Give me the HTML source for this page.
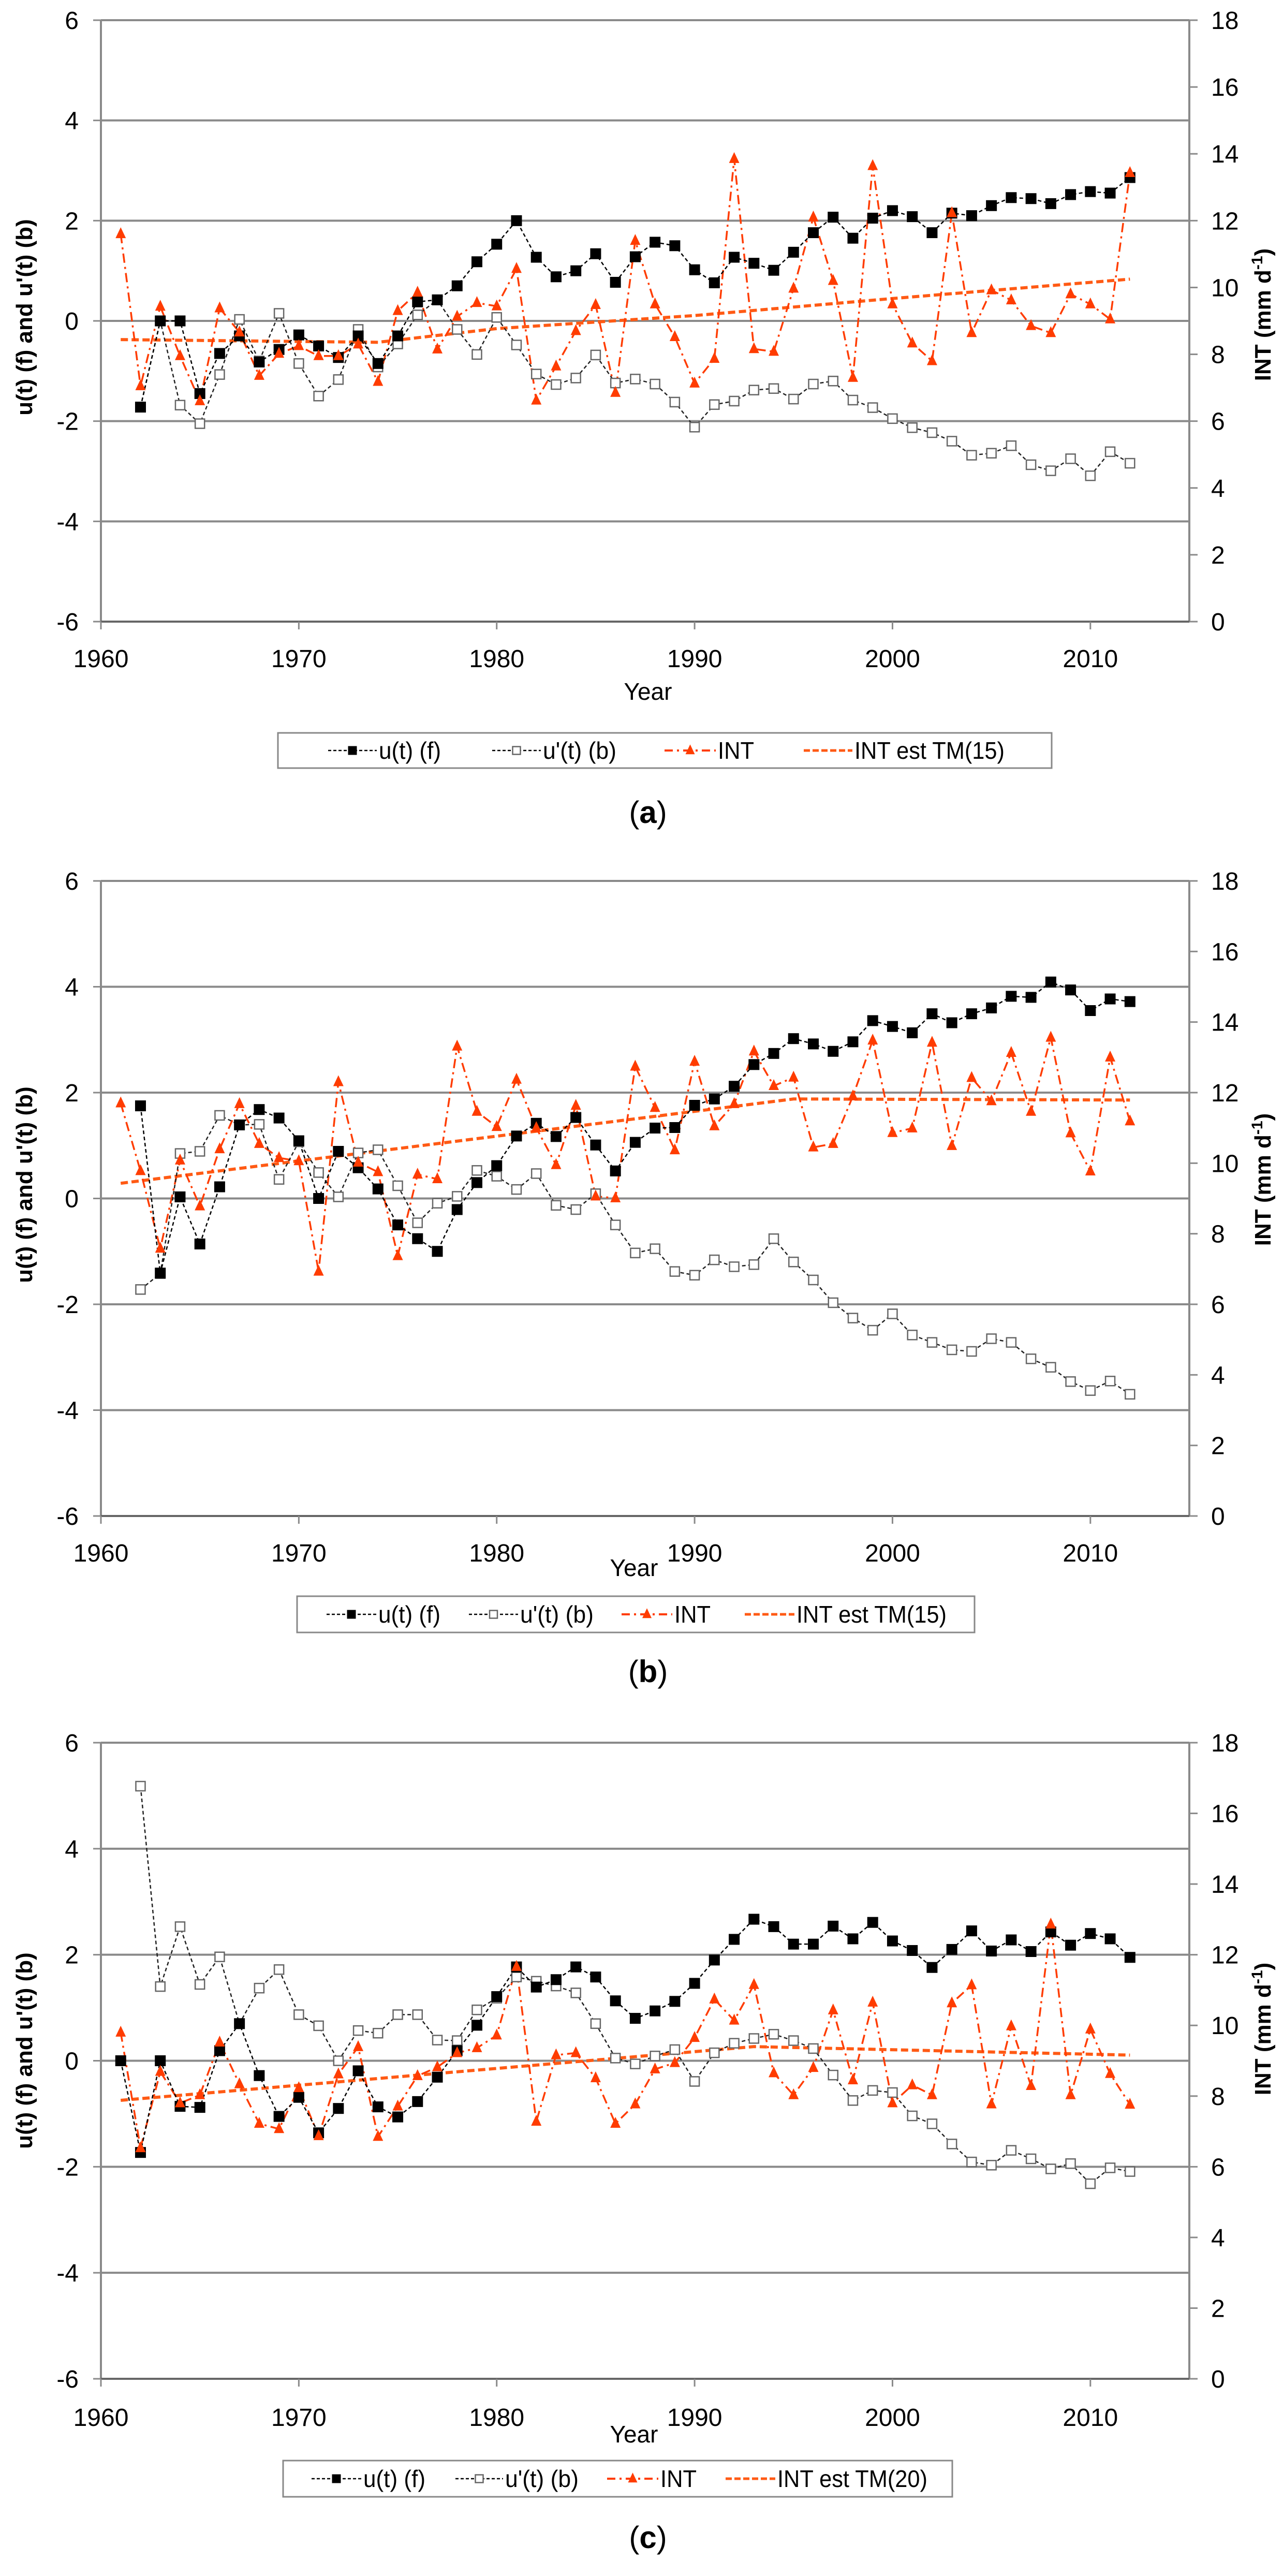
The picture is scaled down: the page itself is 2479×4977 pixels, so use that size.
<!DOCTYPE html>
<html><head><meta charset="utf-8"><style>
html,body{margin:0;padding:0;background:#fff}
svg{display:block}
text{font-family:"Liberation Sans",Arial,sans-serif}
</style></head><body>
<svg id="fig" width="2479" height="4977" viewBox="0 0 2479 4977" xmlns="http://www.w3.org/2000/svg"></svg>
<script>
// ---------- data ----------
const yearsA = [1961,1962,1963,1964,1965,1966,1967,1968,1969,1970,1971,1972,1973,1974,1975,1976,1977,1978,1979,1980,1981,1982,1983,1984,1985,1986,1987,1988,1989,1990,1991,1992,1993,1994,1995,1996,1997,1998,1999,2000,2001,2002,2003,2004,2005,2006,2007,2008,2009,2010,2011,2012];
const uStartYear = 1962;
const uFA = [-1.72,0,0,-1.45,-0.65,-0.3,-0.82,-0.57,-0.28,-0.5,-0.73,-0.3,-0.85,-0.3,0.38,0.42,0.7,1.18,1.53,2.0,1.27,0.88,1.0,1.34,0.77,1.28,1.57,1.5,1.02,0.76,1.27,1.15,1.01,1.37,1.76,2.07,1.65,2.05,2.2,2.08,1.76,2.15,2.1,2.3,2.46,2.44,2.34,2.52,2.58,2.55,2.86];
const uBA = [-1.72,0,-1.68,-2.05,-1.07,0.03,-0.8,0.15,-0.85,-1.5,-1.17,-0.17,-0.92,-0.46,0.12,0.42,-0.17,-0.67,0.07,-0.48,-1.06,-1.27,-1.14,-0.68,-1.24,-1.16,-1.26,-1.62,-2.12,-1.67,-1.6,-1.38,-1.35,-1.56,-1.26,-1.2,-1.58,-1.73,-1.95,-2.13,-2.23,-2.4,-2.68,-2.64,-2.49,-2.87,-2.99,-2.75,-3.09,-2.61,-2.84];
const intA = [11.6,7.05,9.43,7.95,6.6,9.38,8.66,7.36,8.02,8.25,7.95,7.95,8.3,7.18,9.3,9.85,8.15,9.13,9.54,9.44,10.56,6.62,7.64,8.7,9.48,6.85,11.4,9.5,8.52,7.13,7.87,13.85,8.16,8.08,9.97,12.1,10.2,7.3,13.64,9.5,8.33,7.8,12.23,8.64,9.92,9.62,8.85,8.64,9.8,9.5,9.05,13.43];
const tmYearsA = [1961,1974,1980,1990,2000,2012];
const tmA = [8.44,8.36,8.77,9.16,9.67,10.25];

const uFB = [1.75,-1.41,0.03,-0.86,0.22,1.39,1.68,1.52,1.09,0,0.89,0.58,0.18,-0.5,-0.76,-1.0,-0.21,0.3,0.62,1.18,1.42,1.17,1.53,1.01,0.52,1.06,1.33,1.34,1.76,1.88,2.12,2.53,2.74,3.02,2.92,2.78,2.96,3.36,3.25,3.13,3.49,3.32,3.49,3.6,3.82,3.8,4.09,3.94,3.55,3.77,3.72];
const uBB = [-1.72,-1.42,0.85,0.89,1.57,1.39,1.4,0.36,1.07,0.49,0.03,0.86,0.92,0.24,-0.46,-0.09,0.04,0.53,0.42,0.17,0.47,-0.13,-0.21,0.09,-0.5,-1.03,-0.95,-1.38,-1.45,-1.16,-1.29,-1.25,-0.76,-1.2,-1.54,-1.97,-2.26,-2.49,-2.18,-2.58,-2.72,-2.86,-2.89,-2.65,-2.72,-3.03,-3.19,-3.46,-3.63,-3.45,-3.7];
const intB = [11.7,9.78,7.58,10.08,8.78,10.4,11.68,10.55,10.15,10.06,6.93,12.3,10.02,9.75,7.37,9.68,9.55,13.31,11.46,11.03,12.37,11.0,9.95,11.63,9.06,9.01,12.74,11.57,10.37,12.88,11.05,11.68,13.17,12.19,12.43,10.45,10.55,11.9,13.48,10.86,10.99,13.42,10.49,12.42,11.76,13.13,11.46,13.56,10.85,9.77,13.0,11.19];
const tmYearsB = [1961,1995,2012];
const tmB = [9.43,11.82,11.79];

const uFC = [0,-1.73,0,-0.86,-0.88,0.19,0.7,-0.28,-1.05,-0.69,-1.36,-0.9,-0.19,-0.87,-1.06,-0.77,-0.31,0.19,0.67,1.21,1.77,1.39,1.53,1.77,1.58,1.13,0.8,0.94,1.12,1.46,1.9,2.29,2.67,2.53,2.2,2.2,2.54,2.3,2.61,2.26,2.08,1.76,2.1,2.45,2.07,2.28,2.06,2.43,2.18,2.4,2.3,1.95];
const uFCStart = 1961;
const uBC = [5.18,1.4,2.53,1.44,1.96,0.7,1.37,1.72,0.87,0.66,0,0.57,0.52,0.87,0.87,0.39,0.38,0.96,1.18,1.58,1.5,1.41,1.28,0.7,0.05,-0.06,0.09,0.21,-0.39,0.15,0.33,0.42,0.5,0.38,0.23,-0.27,-0.75,-0.56,-0.6,-1.04,-1.19,-1.57,-1.91,-1.97,-1.69,-1.85,-2.04,-1.94,-2.32,-2.02,-2.09];
const intC = [9.8,6.53,8.69,7.8,8.03,9.52,8.34,7.22,7.07,8.23,6.87,8.62,9.39,6.85,7.71,8.57,8.82,9.22,9.36,9.72,11.66,7.28,9.16,9.22,8.51,7.22,7.77,8.76,8.94,9.65,10.74,10.14,11.15,8.65,8.03,8.8,10.43,8.45,10.65,7.8,8.31,8.03,10.63,11.14,7.77,9.98,8.29,12.86,8.03,9.89,8.63,7.76];
const tmYearsC = [1961,1993,2012];
const tmC = [7.88,9.4,9.16];

const leftTicks = [-6,-4,-2,0,2,4,6];
const rightTicks = [0,2,4,6,8,10,12,14,16,18];
const xTicks = [1960,1970,1980,1990,2000,2010];

// ---------- layout ----------
const NS = "http://www.w3.org/2000/svg";
const svg = document.getElementById('fig');
const X0 = 195, X1 = 2298, XMIN = 1960, XMAX = 2015;
const RED = '#ff3c00', TMC = '#ff5a14', GRID = '#8a8a8a';
function mk(tag, attrs, parent){ const e=document.createElementNS(NS,tag); for(const k in attrs) e.setAttribute(k,attrs[k]); (parent||svg).appendChild(e); return e; }
function xs(yr){ return X0 + (yr-XMIN)/(XMAX-XMIN)*(X1-X0); }

const panels = [
 {id:'a', top:39, bot:1201, tickY:1289, yearY:1352, yearX:1252, leg:[537,1416,2032,1484], cap:1590, capL:'a', titleY:613, rTitleY:608,
  uF:uFA, uFStart:uStartYear, uB:uBA, uBStart:uStartYear, intv:intA, tmY:tmYearsA, tm:tmA, tmLabel:'INT est TM(15)',
  legX:[634,951,1284,1553], legT:[732,1049,1387,1651]},
 {id:'b', top:1702, bot:2929, tickY:3017, yearY:3045, yearX:1225, leg:[574,3084,1883,3154], cap:3250, capL:'b', titleY:2289, rTitleY:2279,
  uF:uFB, uFStart:uStartYear, uB:uBB, uBStart:uStartYear, intv:intB, tmY:tmYearsB, tm:tmB, tmLabel:'INT est TM(15)',
  legX:[631,906,1201,1439], legT:[731,1005,1303,1539]},
 {id:'c', top:3367, bot:4596, tickY:4687, yearY:4719, yearX:1225, leg:[547,4754,1840,4824], cap:4923, capL:'c', titleY:3962, rTitleY:3920,
  uF:uFC, uFStart:uFCStart, uB:uBC, uBStart:uStartYear, intv:intC, tmY:tmYearsC, tm:tmC, tmLabel:'INT est TM(20)',
  legX:[602,880,1173,1402], legT:[702,976,1276,1502]}
];

function square(g,x,y,filled,s){
  const r = mk('rect',{x:x-s/2,y:y-s/2,width:s,height:s,fill:filled?'#000':'#fff',stroke:filled?'#000':'#666','stroke-width':filled?1:2.5},g);
  return r;
}
function tri(g,x,y,s){
  return mk('polygon',{points:`${x},${y-s*0.65} ${x-s/2},${y+s*0.4} ${x+s/2},${y+s*0.4}`,fill:RED},g);
}

panels.forEach(p=>{
  const g = mk('g',{});
  
  
  const yl = v => p.bot - (v+6)/12*(p.bot-p.top);
  const yr = v => p.bot - v/18*(p.bot-p.top);
  // gridlines
  leftTicks.forEach(t=>{
    if(t===-6) return;
    const l = mk('line',{x1:X0,x2:X1,y1:yl(t),y2:yl(t),stroke:GRID,'stroke-width':4},g);
    
    
  });
  // axes
  mk('line',{x1:X0,x2:X0,y1:p.top,y2:p.bot,stroke:GRID,'stroke-width':4},g);
  mk('line',{x1:X1,x2:X1,y1:p.top,y2:p.bot,stroke:GRID,'stroke-width':4},g);
  mk('line',{x1:X0,x2:X1,y1:p.bot,y2:p.bot,stroke:'#666','stroke-width':4},g);
  leftTicks.forEach(t=>{
    mk('line',{x1:X0-15,x2:X0,y1:yl(t),y2:yl(t),stroke:GRID,'stroke-width':3},g);
    const tx = mk('text',{x:152,y:yl(t)+17,'font-size':48,'text-anchor':'end',fill:'#000'},g);
    tx.textContent = t;  
  });
  rightTicks.forEach(t=>{
    mk('line',{x1:X1,x2:X1+16,y1:yr(t),y2:yr(t),stroke:GRID,'stroke-width':3},g);
    const tx = mk('text',{x:2340,y:yr(t)+17,'font-size':48,'text-anchor':'start',fill:'#000'},g);
    tx.textContent = t;  
  });
  xTicks.forEach(t=>{
    mk('line',{x1:xs(t),x2:xs(t),y1:p.bot,y2:p.bot+15,stroke:GRID,'stroke-width':3},g);
    const tx = mk('text',{x:xs(t),y:p.tickY,'font-size':48,'text-anchor':'middle',fill:'#000'},g);
    tx.textContent = t;  
  });
  let t1 = mk('text',{x:p.yearX,y:p.yearY,'font-size':46,'text-anchor':'middle'},g);
  t1.textContent='Year';  
  let t2 = mk('text',{x:0,y:0,'font-size':44,'font-weight':'bold','text-anchor':'middle',transform:`translate(62,${p.titleY}) rotate(-90)`},g);
  t2.textContent="u(t) (f) and u'(t) (b)";  
  let t3 = mk('text',{x:0,y:0,'font-size':44,'font-weight':'bold','text-anchor':'middle',transform:`translate(2455,${p.rTitleY}) rotate(-90)`},g);
  t3.innerHTML='INT (mm d<tspan font-size="30" dy="-16">-1</tspan><tspan dy="16">)</tspan>';
   

  // TM trend
  const tmPts = p.tm.map((v,i)=>xs(p.tmY[i])+','+yr(v)).join(' ');
  const tml = mk('polyline',{points:tmPts,fill:'none',stroke:TMC,'stroke-width':6,'stroke-dasharray':'14 7'},g);
   
  // INT
  const intPts = p.intv.map((v,i)=>xs(1961+i)+','+yr(v)).join(' ');
  const il = mk('polyline',{points:intPts,fill:'none',stroke:RED,'stroke-width':3.5,'stroke-dasharray':'18 8 4 8'},g);
   
  // u'(t) (b)
  const ubPts = p.uB.map((v,i)=>xs(p.uBStart+i)+','+yl(v)).join(' ');
  const ubl = mk('polyline',{points:ubPts,fill:'none',stroke:'#222','stroke-width':2.5,'stroke-dasharray':'7 5'},g);
   
  // u(t) (f)
  const ufPts = p.uF.map((v,i)=>xs(p.uFStart+i)+','+yl(v)).join(' ');
  const ufl = mk('polyline',{points:ufPts,fill:'none',stroke:'#000','stroke-width':2.5,'stroke-dasharray':'7 5'},g);
   
  p.uB.forEach((v,i)=>{ const m=square(g,xs(p.uBStart+i),yl(v),false,18);
      });
  p.uF.forEach((v,i)=>{ const m=square(g,xs(p.uFStart+i),yl(v),true,20);
      });
  p.intv.forEach((v,i)=>{ const m=tri(g,xs(1961+i),yr(v),20);
      });

  // legend
  const [lx0,ly0,lx1,ly1] = p.leg, ly=(ly0+ly1)/2;
  const lg = mk('g',{},g);
   
  mk('rect',{x:lx0,y:ly0,width:lx1-lx0,height:ly1-ly0,fill:'#fff',stroke:'#888','stroke-width':3},lg);
  const labels = ['u(t) (f)',"u'(t) (b)",'INT',p.tmLabel];
  const widths = [120,142,70,290];
  labels.forEach((lab,i)=>{
    const sx = p.legX[i], ex = p.legT[i]-4, mx=(sx+ex)/2;
    if(i<2){ mk('line',{x1:sx,x2:ex,y1:ly,y2:ly,stroke:'#000','stroke-width':2.5,'stroke-dasharray':'6 4'},lg); square(lg,mx,ly,i===0,i===0?16:15); }
    else if(i===2){ mk('line',{x1:sx,x2:ex,y1:ly,y2:ly,stroke:RED,'stroke-width':4,'stroke-dasharray':'16 8 4 8'},lg); tri(lg,mx,ly,18); }
    else { mk('line',{x1:sx,x2:ex,y1:ly,y2:ly,stroke:TMC,'stroke-width':5,'stroke-dasharray':'12 5'},lg); }
    const t = mk('text',{x:p.legT[i],y:ly+16,'font-size':46,textLength:widths[i],lengthAdjust:'spacingAndGlyphs'},lg);
    t.textContent = lab;  
  });
  // caption
  const cap = mk('text',{x:1252,y:p.cap,'font-size':60,'text-anchor':'middle','font-family':'"Liberation Serif",serif'},g);
  cap.innerHTML = '(<tspan font-weight="bold">'+p.capL+'</tspan>)';
   
});
</script>
</body></html>
